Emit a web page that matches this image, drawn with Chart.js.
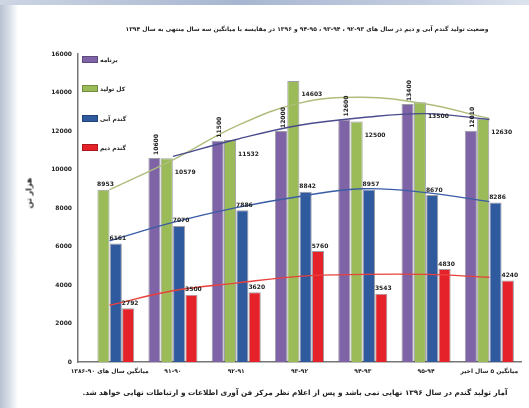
<!DOCTYPE html>
<html lang="fa">
<head>
    <meta charset="UTF-8">
    <title>وضعیت تولید گندم</title>
    <script src="https://cdn.jsdelivr.net/npm/chart.js"></script>
    <style>
        body {
            margin: 0;
            width: 529px;
            height: 408px;
            overflow: hidden;
            background: #fff;
            font-family: "DejaVu Sans", sans-serif;
            position: relative;
        }
        .edge-left {
            position: absolute; left: 0; top: 0; width: 18px; height: 408px;
            background: linear-gradient(to right, #b7c1d2, #dfe4ec 60%, #ffffff);
        }
        .edge-top {
            position: absolute; left: 0; top: 0; width: 529px; height: 5px;
            background: linear-gradient(to right, #cdd5e3, #a7b6d0 45%, #c3cde0 80%, #dde3ee);
        }
        #wrap { position: absolute; left: 0; top: 0; width: 529px; height: 408px; }
        .ytitle {
            position: absolute; left: 29px; top: 193px;
            transform: translate(-50%, -50%) rotate(-90deg);
            font-size: 8px; font-weight: bold; direction: rtl; white-space: nowrap; color: #222;
        }
        #legend { position: absolute; left: 82px; top: 56px; direction: ltr; }
        .item { position: absolute; left: 0; display: flex; align-items: center; white-space: nowrap; }
        .item span.box { display: inline-block; width: 14px; height: 5px; margin-right: 2px; border: 1px solid rgba(0,0,0,0.25); }
        .item span.txt { font-size: 6px; font-weight: bold; direction: rtl; color: #222; }
    </style>
</head>
<body>
    <div class="edge-left"></div>
    <div class="edge-top"></div>
    <div id="wrap"><canvas id="c" width="529" height="408"></canvas></div>
    <div class="ytitle">هزار تن</div>
    <div id="legend"></div>

    <script>
        const chartTitle = 'وضعیت تولید گندم آبی و دیم در سال های ۹۳-۹۲ ، ۹۴-۹۳ ، ۹۵-۹۴ و ۱۳۹۶ در مقایسه با میانگین سه سال منتهی به سال ۱۳۹۴';
        const footNote = 'آمار تولید گندم در سال ۱۳۹۶ نهایی نمی باشد و پس از اعلام نظر مرکز فن آوری اطلاعات و ارتباطات نهایی خواهد شد.';

        const categories = ['میانگین سال های ۹۰-۱۳۸۶', '۹۱-۹۰', '۹۲-۹۱', '۹۳-۹۲', '۹۴-۹۳', '۹۵-۹۴', 'میانگین ۵ سال اخیر'];
        const seriesNames = ['برنامه', 'کل تولید', 'گندم آبی', 'گندم دیم'];
        const seriesColors = ['#7e63a6', '#9bbb59', '#2f5a9e', '#e5222a'];

        const plan = [null, 10600, 11500, 12000, 12600, 13400, 12010];
        const total = [8953, 10579, 11532, 14603, 12500, 13500, 12630];
        const irrigated = [6161, 7070, 7886, 8842, 8957, 8670, 8286];
        const rainfed = [2792, 3500, 3620, 5760, 3543, 4830, 4240];

        // trend curves
        const planTrend = [null, 10680, 11560, 12300, 12700, 12900, 12600];
        const totalTrend = [8950, 10500, 12250, 13450, 13750, 13400, 12650];
        const irrigatedTrend = [6300, 7250, 8020, 8600, 9000, 8800, 8330];
        const rainfedTrend = [2950, 3700, 4100, 4450, 4550, 4550, 4400];
        const trendColors = ['#4a4c8e', '#aebd7c', '#3b5da6', '#e8413c'];

        const yTicks = [0, 2000, 4000, 6000, 8000, 10000, 12000, 14000, 16000];

        // legend
        const legend = document.getElementById('legend');
        const legendTops = [0, 29, 59, 88];
        seriesNames.forEach((n, i) => {
            const d = document.createElement('div');
            d.className = 'item';
            d.style.top = legendTops[i] + 'px';
            d.innerHTML = '<span class="box" style="background:' + seriesColors[i] + '"></span><span class="txt">' + n + '</span>';
            legend.appendChild(d);
        });

        const texts = {
            id: 'texts',
            afterDraw(chart) {
                const ctx = chart.ctx;
                ctx.save();
                ctx.direction = 'rtl';
                ctx.fillStyle = '#222';
                ctx.textAlign = 'center';
                ctx.textBaseline = 'middle';
                ctx.font = 'bold 6px "DejaVu Sans"';
                ctx.fillText(chartTitle, 307, 29);
                ctx.font = 'bold 7.3px "DejaVu Sans"';
                ctx.fillText(footNote, 295, 393);
                ctx.restore();
            }
        };

        const barLabels = {
            id: 'barLabels',
            afterDatasetsDraw(chart) {
                const ctx = chart.ctx;
                ctx.save();
                ctx.font = 'bold 6px "DejaVu Sans"';
                ctx.fillStyle = '#222';
                for (let di = 0; di < 4; di++) {
                    const meta = chart.getDatasetMeta(di);
                    const vals = chart.data.datasets[di].data;
                    meta.data.forEach((el, i) => {
                        if (vals[i] == null) return;
                        const t = String(vals[i]);
                        if (di === 0) {
                            ctx.save();
                            ctx.translate(el.x + 2, el.y - 3);
                            ctx.rotate(-Math.PI / 2);
                            ctx.textAlign = 'left';
                            ctx.textBaseline = 'middle';
                            ctx.fillText(t, 0, 0);
                            ctx.restore();
                        } else if (di === 1 && i > 0) {
                            ctx.textAlign = 'left';
                            ctx.textBaseline = 'middle';
                            ctx.fillText(t, el.x + el.width / 2 + 2, el.y + 14);
                        } else {
                            ctx.textAlign = 'center';
                            ctx.textBaseline = 'bottom';
                            ctx.fillText(t, el.x + 2, el.y - 2);
                        }
                    });
                }
                ctx.restore();
            }
        };

        const bars = [plan, total, irrigated, rainfed].map((d, i) => ({
            type: 'bar',
            label: seriesNames[i],
            data: d,
            backgroundColor: seriesColors[i],
            borderColor: 'rgba(40,40,60,0.45)',
            borderWidth: 1,
            order: 2,
            categoryPercentage: 0.78,
            barPercentage: 0.98
        }));
        const trends = [planTrend, totalTrend, irrigatedTrend, rainfedTrend].map((d, i) => ({
            type: 'line',
            label: seriesNames[i] + ' روند',
            data: d,
            borderColor: trendColors[i],
            borderWidth: 1.4,
            pointRadius: 0,
            tension: 0.4,
            fill: false,
            order: 1
        }));

        new Chart(document.getElementById('c'), {
            data: { labels: categories, datasets: bars.concat(trends) },
            options: {
                responsive: false,
                animation: false,
                layout: { padding: { top: 54, right: 8, bottom: 0, left: 0 } },
                plugins: { legend: { display: false }, tooltip: { enabled: false } },
                scales: {
                    x: {
                        grid: { display: false, drawTicks: true, tickLength: 3, color: '#777' },
                        border: { color: '#777', width: 1.5 },
                        ticks: { color: '#222', font: { size: 6, weight: 'bold', family: 'DejaVu Sans' }, maxRotation: 0, autoSkip: false, padding: 3 },
                        afterFit(s) { s.height = 46; }
                    },
                    y: {
                        min: 0, max: 16000,
                        afterBuildTicks(s) { s.ticks = yTicks.map(v => ({ value: v })); },
                        grid: { display: false, drawTicks: true, tickLength: 3 },
                        border: { color: '#777', width: 1.5 },
                        ticks: { color: '#222', font: { size: 6, weight: 'bold', family: 'DejaVu Sans' }, padding: 3, callback: v => String(v) },
                        afterFit(s) { s.width = 78; }
                    }
                }
            },
            plugins: [barLabels, texts]
        });
    </script>
</body>
</html>
